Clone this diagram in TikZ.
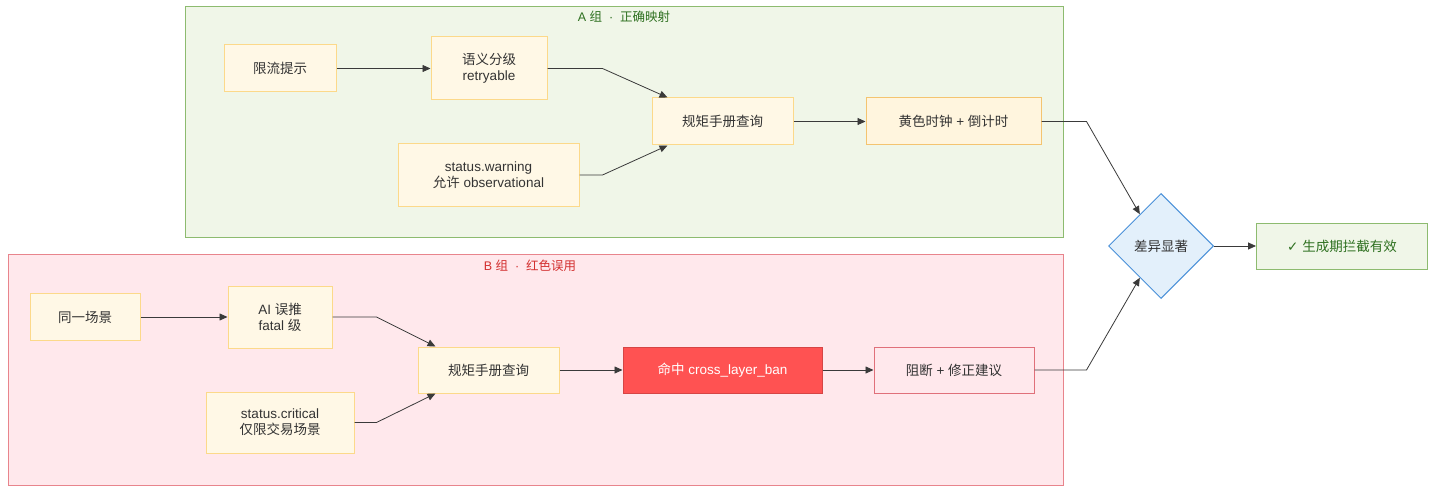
\documentclass[tikz,border=0pt]{standalone}
\usepackage{fontspec}
\setmainfont{Liberation Sans}
\newfontfamily\cjk{Noto Sans CJK SC}
\newfontfamily\symfont{DejaVu Sans}
\newcommand{\zh}[1]{{\cjk #1}}
\usetikzlibrary{arrows.meta,shapes.geometric,calc}
\definecolor{grpAfill}{HTML}{F0F6E8}
\definecolor{grpAdraw}{HTML}{8DBB6F}
\definecolor{grpAtext}{HTML}{2E7020}
\definecolor{grpBfill}{HTML}{FFE8EC}
\definecolor{grpBdraw}{HTML}{E8848C}
\definecolor{grpBtext}{HTML}{D32F2F}
\definecolor{yfill}{HTML}{FFF8E6}
\definecolor{ydraw}{HTML}{FCD98A}
\definecolor{y2fill}{HTML}{FFF5DE}
\definecolor{y2draw}{HTML}{F4C470}
\definecolor{dfill}{HTML}{E3F0FB}
\definecolor{ddraw}{HTML}{4A90D9}
\definecolor{hitfill}{HTML}{FF5252}
\definecolor{hitdraw}{HTML}{D64545}
\definecolor{blkfill}{HTML}{FFE8EC}
\definecolor{blkdraw}{HTML}{E0707A}
\definecolor{txt}{HTML}{333333}
\definecolor{edge}{HTML}{3A3A3A}
\tikzset{
  grpbox/.style={line width=1pt},
  ybox/.style={draw=ydraw,fill=yfill,line width=1pt,inner sep=0pt,align=center,text=txt,font=\fontsize{13.5}{16}\selectfont},
  conn/.style={draw=edge,line width=0.8pt,-{Triangle[length=8pt,width=7pt]}},
  grplabel/.style={font=\fontsize{12.5}{15}\selectfont,inner sep=0pt}
}
\begin{document}
\begin{tikzpicture}[x=1pt,y=-1pt]
\useasboundingbox[fill=white] (0,0) rectangle (1438,492);
% groups
\node[grpbox,draw=grpAdraw,fill=grpAfill,minimum width=878pt,minimum height=230pt,inner sep=0pt] (grpA) at (624,122) {};
\node[grplabel,text=grpAtext] (labA) at (624,17) {A \zh{组}\ \ ·\ \ \zh{正确映射}};
\node[grpbox,draw=grpBdraw,fill=grpBfill,minimum width=1055pt,minimum height=231pt,inner sep=0pt] (grpB) at (535.5,369.5) {};
\node[grplabel,text=grpBtext] (labB) at (530,266) {B \zh{组}\ \ ·\ \ \zh{红色误用}};
% group A nodes
\node[ybox,minimum width=112pt,minimum height=47pt] (limit) at (280,68.5) {\zh{限流提示}};
\node[ybox,minimum width=116pt,minimum height=63pt] (sem) at (489,68.5) {\zh{语义分级}\\retryable};
\node[ybox,minimum width=181pt,minimum height=62pt] (warn) at (488.5,175) {status.warning\\\zh{允许} observational};
\node[ybox,minimum width=141pt,minimum height=47pt] (ruleA) at (722.5,121.5) {\zh{规矩手册查询}};
\node[ybox,draw=y2draw,fill=y2fill,minimum width=175pt,minimum height=47pt] (clock) at (953.5,121.5) {\zh{黄色时钟} + \zh{倒计时}};
% group B nodes
\node[ybox,minimum width=110pt,minimum height=47pt] (same) at (85,317) {\zh{同一场景}};
\node[ybox,minimum width=104pt,minimum height=62pt] (ai) at (280,317) {AI \zh{误推}\\fatal \zh{级}};
\node[ybox,minimum width=148pt,minimum height=61pt] (crit) at (280,422.5) {status.critical\\\zh{仅限交易场景}};
\node[ybox,minimum width=141pt,minimum height=46pt] (ruleB) at (488.5,370) {\zh{规矩手册查询}};
\node[ybox,draw=hitdraw,fill=hitfill,text=white,minimum width=199pt,minimum height=46pt] (hit) at (722.5,370) {\zh{命中} cross\_layer\_ban};
\node[ybox,draw=blkdraw,fill=blkfill,minimum width=160pt,minimum height=46pt] (block) at (954,370) {\zh{阻断} + \zh{修正建议}};
% decision and result
\node[diamond,draw=ddraw,fill=dfill,line width=1pt,minimum width=105pt,minimum height=105pt,inner sep=0pt,text=txt,font=\fontsize{13.5}{16}\selectfont] (diff) at (1161,246) {\zh{差异显著}};
\node[draw=grpAdraw,fill=grpAfill,line width=1pt,minimum width=171pt,minimum height=46pt,inner sep=0pt,text=grpAtext,font=\fontsize{13.5}{16}\selectfont] (ok) at (1342,246) {{\symfont ✓} \zh{生成期拦截有效}};
% edges A
\draw[conn] (limit.east) -- (sem.west);
\draw[conn] (sem.east) -- ++(55,0) -- ($(ruleA.north west)+(16,0)$);
\draw[conn] (warn.east) -- ++(23,0) -- ($(ruleA.south west)+(16,0)$);
\draw[conn] (ruleA.east) -- (clock.west);
\draw[conn] (clock.east) -- ++(45,0) -- ($(diff.west)!0.6!(diff.north)$);
% edges B
\draw[conn] (same.east) -- (ai.west);
\draw[conn] (ai.east) -- ++(44,0) -- ($(ruleB.north west)+(18,0)$);
\draw[conn] (crit.east) -- ++(22,0) -- ($(ruleB.south west)+(18,0)$);
\draw[conn] (ruleB.east) -- (hit.west);
\draw[conn] (hit.east) -- (block.west);
\draw[conn] (block.east) -- ++(52,0) -- ($(diff.west)!0.6!(diff.south)$);
\draw[conn] (diff.east) -- (ok.west);
\end{tikzpicture}
\end{document}
